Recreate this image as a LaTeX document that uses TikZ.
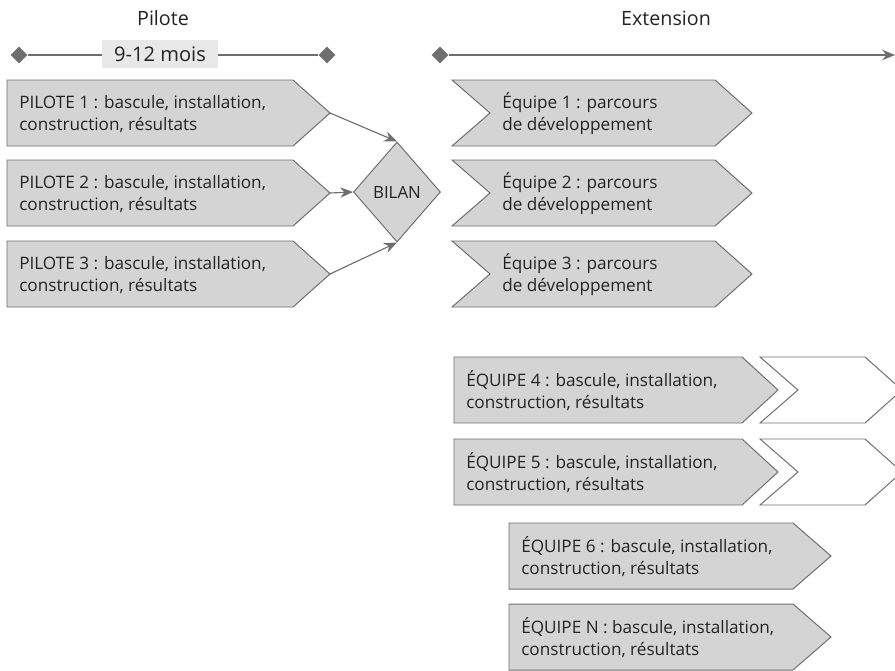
\documentclass[tikz,border=0pt]{standalone}
\usepackage{fontspec}
\setmainfont{Open Sans}
\usetikzlibrary{calc,shapes.geometric,arrows.meta}
\definecolor{boxgray}{RGB}{212,212,212}
\definecolor{edgegray}{RGB}{110,110,110}
\definecolor{labelgray}{RGB}{232,232,232}
\definecolor{txtgray}{RGB}{35,35,35}

\begin{document}
\begin{tikzpicture}[x=0.025cm, y=-0.025cm,
    chevron/.style={fill=boxgray, draw=edgegray, line width=0.7pt, line join=miter},
    blank/.style={fill=white, draw=edgegray, line width=0.7pt},
    boxtext/.style={anchor=west, align=left, inner sep=0pt, text=txtgray, font=\fontsize{12.2}{15.6}\selectfont},
    title/.style={text=txtgray, font=\fontsize{14}{16}\selectfont},
    tickmark/.style={diamond, fill=edgegray, inner sep=0pt, minimum size=0.42cm},
    link/.style={-{Stealth[length=0.32cm, width=0.26cm]}, draw=edgegray, line width=0.8pt}]
    \clip (0,0) rectangle (895,671);

    % Titles
    \node[title] (pilote) at (163,18) {Pilote};
    \node[title] (extension) at (666,18) {Extension};

    % Pilot timeline
    \node[tickmark] (d1) at (19,55) {};
    \node[tickmark] (d2) at (327,55) {};
    \draw[edgegray, line width=0.8pt] (d1) -- (d2);
    \node[fill=labelgray, minimum width=2.875cm, minimum height=0.7cm, inner sep=0pt,
        text=txtgray, font=\fontsize{14.3}{16}\selectfont] (duree) at (160,54) {9-12 mois};

    % Extension timeline
    \node[tickmark] (d3) at (440,55) {};
    \coordinate (fin) at (895,55);
    \draw[link, line width=0.9pt] (d3) -- (fin);

    % Pilot boxes
    \draw[chevron] (7,80) -- (293,80) -- (330,113) -- (293,146) -- (7,146) -- cycle;
    \draw[chevron] (7,160) -- (293,160) -- (330,193) -- (293,226) -- (7,226) -- cycle;
    \draw[chevron] (7,241) -- (293,241) -- (330,274) -- (293,307) -- (7,307) -- cycle;
    \coordinate (p1) at (330,113);
    \coordinate (p2) at (330,193);
    \coordinate (p3) at (330,274);
    \node[boxtext] (tp1) at (19,114) {PILOTE 1 : bascule, installation,\\construction, résultats};
    \node[boxtext] (tp2) at (19,194) {PILOTE 2 : bascule, installation,\\construction, résultats};
    \node[boxtext] (tp3) at (19,275) {PILOTE 3 : bascule, installation,\\construction, résultats};

    % Review
    \node[diamond, fill=boxgray, draw=edgegray, line width=0.7pt, minimum width=2.175cm,
        minimum height=2.5cm, inner sep=0pt, text=txtgray, font=\fontsize{12}{14}\selectfont] (bilan) at (397,192) {BILAN};
    \draw[link] (p1) -- (bilan.north);
    \draw[link] (p2) -- (bilan.west);
    \draw[link] (p3) -- (bilan.south);

    % Teams 1-3: development path
    \draw[chevron] (452,80) -- (715,80) -- (752,113) -- (715,146) -- (452,146) -- (490,113) -- cycle;
    \draw[chevron] (452,160) -- (715,160) -- (752,193) -- (715,226) -- (452,226) -- (490,193) -- cycle;
    \draw[chevron] (452,241) -- (715,241) -- (752,274) -- (715,307) -- (452,307) -- (490,274) -- cycle;
    \node[boxtext] (te1) at (502,114) {Équipe 1 : parcours\\de développement};
    \node[boxtext] (te2) at (502,194) {Équipe 2 : parcours\\de développement};
    \node[boxtext] (te3) at (502,275) {Équipe 3 : parcours\\de développement};

    % Teams 4-N
    \draw[chevron] (454,357) -- (742,357) -- (778,390) -- (742,423) -- (454,423) -- cycle;
    \draw[blank] (760,357) -- (865,357) -- (902,390) -- (865,423) -- (760,423) -- (798,390) -- cycle;
    \draw[chevron] (454,439) -- (742,439) -- (778,472) -- (742,505) -- (454,505) -- cycle;
    \draw[blank] (760,439) -- (865,439) -- (902,472) -- (865,505) -- (760,505) -- (798,472) -- cycle;
    \draw[chevron] (509,523) -- (793,523) -- (831,556) -- (793,589) -- (509,589) -- cycle;
    \draw[chevron] (509,604) -- (793,604) -- (831,637) -- (793,670) -- (509,670) -- cycle;
    \node[boxtext] (tq4) at (466,391) {ÉQUIPE 4 : bascule, installation,\\construction, résultats};
    \node[boxtext] (tq5) at (466,473) {ÉQUIPE 5 : bascule, installation,\\construction, résultats};
    \node[boxtext] (tq6) at (521,557) {ÉQUIPE 6 : bascule, installation,\\construction, résultats};
    \node[boxtext] (tqn) at (521,638) {ÉQUIPE N : bascule, installation,\\construction, résultats};
\end{tikzpicture}
\end{document}
